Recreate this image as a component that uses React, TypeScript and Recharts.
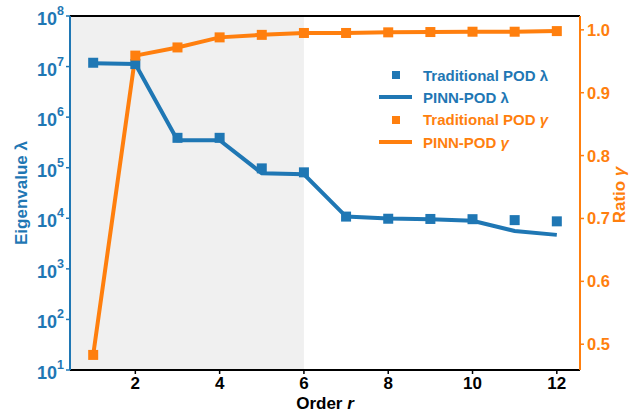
import React from 'react';
import {
  ComposedChart,
  Line,
  XAxis,
  YAxis,
  ReferenceArea,
  ReferenceLine,
  Legend,
  Label,
} from 'recharts';

const orders = [1, 2, 3, 4, 5, 6, 7, 8, 9, 10, 11, 12];
const traditionalLambda = [1.19e7, 1.12e7, 3.9e5, 3.9e5, 9.7e4, 8.1e4, 1.08e4, 9.8e3, 9.7e3, 9.6e3, 9.2e3, 8.7e3];
const pinnLambda = [1.16e7, 1.12e7, 3.5e5, 3.5e5, 7.8e4, 7.4e4, 1.08e4, 9.9e3, 9.6e3, 8.9e3, 5.6e3, 4.7e3];
const traditionalGamma = [0.483, 0.959, 0.972, 0.988, 0.992, 0.995, 0.995, 0.996, 0.9965, 0.997, 0.997, 0.998];
const pinnGamma = [0.483, 0.959, 0.972, 0.988, 0.992, 0.995, 0.995, 0.996, 0.9965, 0.997, 0.997, 0.998];

const xTicks = [2, 4, 6, 8, 10, 12];
const lambdaTicks = [1e1, 1e2, 1e3, 1e4, 1e5, 1e6, 1e7, 1e8];
const gammaTicks = [0.5, 0.6, 0.7, 0.8, 0.9, 1.0];
const shadedUntil = 6;

const BLUE = '#1f77b4';
const ORANGE = '#ff7f0e';
const FONT = "'Liberation Sans', Arial, sans-serif";

const data = orders.map((r, i) => ({
  r,
  tradL: traditionalLambda[i],
  pinnL: pinnLambda[i],
  tradG: traditionalGamma[i],
  pinnG: pinnGamma[i],
}));

const makeSquare = (color: string) => (props: any) => {
  const { cx, cy, index } = props;
  if (cx == null || cy == null) return <g key={`s-${index}`} />;
  return <rect key={`s-${index}`} x={cx - 5} y={cy - 5} width={10} height={10} fill={color} />;
};

const LogTick = (props: any) => {
  const { x, y, payload } = props;
  const exp = Math.round(Math.log10(payload.value));
  return (
    <text x={x} y={y + 9} textAnchor="end" fill={BLUE} fontFamily={FONT} fontWeight="bold" fontSize={18}>
      <tspan>10</tspan>
      <tspan fontSize={12.5} dy={-10}>{exp}</tspan>
    </text>
  );
};

const RightTick = (props: any) => {
  const { x, y, payload } = props;
  return (
    <text x={x} y={y + 6} textAnchor="start" fill={ORANGE} fontFamily={FONT} fontWeight="bold" fontSize={16.5}>
      {payload.value.toFixed(1)}
    </text>
  );
};

const XTick = (props: any) => {
  const { x, y, payload } = props;
  return (
    <text x={x} y={y + 12} textAnchor="middle" fill="#000" fontFamily={FONT} fontWeight="bold" fontSize={17}>
      {payload.value}
    </text>
  );
};

const XLabel = (props: any) => {
  const vb = props.viewBox || { x: 70, y: 370, width: 510, height: 44 };
  return (
    <text x={vb.x + vb.width / 2} y={vb.y + 39} textAnchor="middle" fill="#000" fontFamily={FONT} fontWeight="bold" fontSize={17}>
      <tspan>Order </tspan>
      <tspan fontStyle="italic">r</tspan>
    </text>
  );
};

const LeftLabel = (props: any) => {
  const vb = props.viewBox || { x: 0, y: 16, width: 70, height: 354 };
  const cy = vb.y + vb.height / 2;
  return (
    <text transform={`translate(${vb.x + 27}, ${cy}) rotate(-90)`} textAnchor="middle" fill={BLUE} fontFamily={FONT} fontWeight="bold" fontSize={17}>
      Eigenvalue λ
    </text>
  );
};

const RightLabel = (props: any) => {
  const vb = props.viewBox || { x: 580, y: 16, width: 61, height: 354 };
  const cy = vb.y + vb.height / 2;
  return (
    <text transform={`translate(${vb.x + 45}, ${cy + 2}) rotate(-90)`} textAnchor="middle" fill={ORANGE} fontFamily={FONT} fontWeight="bold" fontSize={17}>
      <tspan>Ratio </tspan>
      <tspan fontStyle="italic">γ</tspan>
    </text>
  );
};

const legendItems = [
  { name: 'Traditional POD ', sym: 'λ', color: BLUE, kind: 'square' },
  { name: 'PINN-POD ', sym: 'λ', color: BLUE, kind: 'line' },
  { name: 'Traditional POD ', sym: 'γ', color: ORANGE, kind: 'square' },
  { name: 'PINN-POD ', sym: 'γ', color: ORANGE, kind: 'line' },
];

const LegendContent = () => (
  <div style={{ fontFamily: FONT, fontWeight: 'bold', fontSize: 15 }}>
    {legendItems.map((it, i) => (
      <div key={i} style={{ display: 'flex', alignItems: 'center', height: 22.3, color: it.color }}>
        <div style={{ width: 44, height: 22, position: 'relative' }}>
          {it.kind === 'square' ? (
            <div style={{ position: 'absolute', left: 13, top: 7, width: 8, height: 8, background: it.color }} />
          ) : (
            <div style={{ position: 'absolute', left: 0, top: 9, width: 33, height: 4, background: it.color }} />
          )}
        </div>
        <span style={{ whiteSpace: 'pre' }}>
          {it.name}
          <span style={{ fontStyle: it.sym === 'γ' ? 'italic' : 'normal' }}>{it.sym}</span>
        </span>
      </div>
    ))}
  </div>
);

export default function App() {
  return (
    <div style={{ position: 'absolute', left: 0, top: 0, width: 641, height: 414, background: '#fff' }}>
      <ComposedChart width={641} height={414} data={data} margin={{ top: 16, right: 0, bottom: 0, left: 0 }}>
        <XAxis
          dataKey="r"
          type="number"
          domain={[0.45, 12.55]}
          ticks={xTicks}
          allowDataOverflow
          height={44}
          tick={<XTick />}
          tickSize={4}
          tickMargin={3}
          axisLine={{ stroke: '#000', strokeWidth: 2 }}
          tickLine={{ stroke: '#000', strokeWidth: 1.5 }}
        >
          <Label content={<XLabel />} />
        </XAxis>
        <YAxis
          yAxisId="left"
          orientation="left"
          scale="log"
          domain={[10, 1e8]}
          ticks={lambdaTicks}
          allowDataOverflow
          width={70}
          tick={<LogTick />}
          tickSize={4}
          tickMargin={2}
          axisLine={{ stroke: BLUE, strokeWidth: 2 }}
          tickLine={{ stroke: BLUE, strokeWidth: 1.5 }}
        >
          <Label content={<LeftLabel />} />
        </YAxis>
        <YAxis
          yAxisId="right"
          orientation="right"
          domain={[0.459, 1.022]}
          ticks={gammaTicks}
          allowDataOverflow
          width={61}
          tick={<RightTick />}
          tickSize={4}
          tickMargin={3}
          axisLine={{ stroke: ORANGE, strokeWidth: 2 }}
          tickLine={{ stroke: ORANGE, strokeWidth: 1.5 }}
        >
          <Label content={<RightLabel />} />
        </YAxis>
        <ReferenceArea
          yAxisId="left"
          x1={0.45}
          x2={shadedUntil}
          y1={10}
          y2={1e8}
          fill="#f0f0f0"
          fillOpacity={1}
          stroke="none"
          ifOverflow="hidden"
        />
        <ReferenceLine yAxisId="left" y={1e8} stroke="#000" strokeWidth={2} />
        <Line
          yAxisId="left"
          dataKey="tradL"
          stroke="none"
          strokeWidth={0}
          dot={makeSquare(BLUE)}
          activeDot={false}
          isAnimationActive={false}
        />
        <Line
          yAxisId="left"
          dataKey="pinnL"
          stroke={BLUE}
          strokeWidth={4}
          dot={false}
          activeDot={false}
          isAnimationActive={false}
        />
        <Line
          yAxisId="right"
          dataKey="tradG"
          stroke="none"
          strokeWidth={0}
          dot={makeSquare(ORANGE)}
          activeDot={false}
          isAnimationActive={false}
        />
        <Line
          yAxisId="right"
          dataKey="pinnG"
          stroke={ORANGE}
          strokeWidth={4}
          dot={false}
          activeDot={false}
          isAnimationActive={false}
        />
        <Legend
          layout="vertical"
          align="center"
          verticalAlign="middle"
          content={<LegendContent />}
          wrapperStyle={{ left: 379, top: 64, width: 200, height: 90 }}
        />
      </ComposedChart>
    </div>
  );
}
